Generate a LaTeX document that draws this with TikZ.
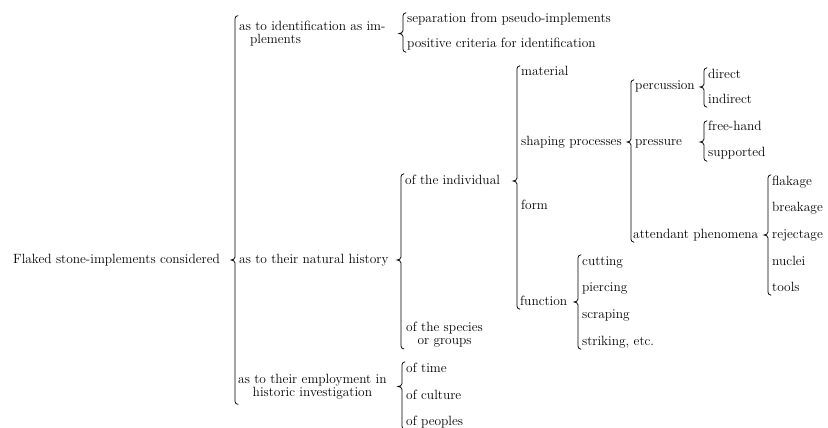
\documentclass[tikz,border=0pt]{standalone}
\usepackage{tikz}
\usetikzlibrary{calc}

%Klammer: Elternknoten, erstes Kind, letztes Kind
\newcommand{\gbrace}[4][1pt]{%
  \draw[brace] let \p1=(#3.north west), \p2=(#4.south west), \p3=(#2.east) in
    (\x1-1pt,\y1+#1) to[out=180,in=90] (\x1-4pt,\y1+#1-3pt)
    -- (\x1-4pt,\y3+3pt) to[out=-90,in=0] (\x1-8pt,\y3)
    to[out=0,in=90] (\x1-4pt,\y3-3pt)
    -- (\x1-4pt,\y2-#1+3pt) to[out=-90,in=180] (\x1-1pt,\y2-#1);}

\begin{document}
\begin{tikzpicture} [
    x=1pt, y=-1pt,
    every node/.style = { font=\fontsize{13.4}{13.3}\selectfont, inner sep=0pt, anchor=west},
    item/.style       = { text height=9pt, text depth=3pt},
    multi/.style      = { align=#1},
    brace/.style      = { draw=black, line width=0.75pt, line cap=round},
  ]
  \useasboundingbox (0,0) rectangle (828,428);

%Wurzel
  \node[item] (0a) at (13,260) {Flaked stone-implements considered};

%Ebene 1
  \node[multi=left]   (1a) at (239,33.5) {as to identification as im-\\\hspace*{11pt}plements};
  \node[item]         (1b) at (239,260)  {as to their natural history};
  \node[multi=center] (1c) at (238,386.5) {as to their employment in\\historic investigation};

%Ebene 2
  \node[item] (2a) at (407,20) {separation from pseudo-implements};
  \node[item] (2b) at (407,45) {positive criteria for identification};
  \node[item] (2c) at (405,181) {of the individual};
  \node[multi=center] (2d) at (406,335) {of the species\\or groups};
  \node[item] (2e) at (406,369) {of time};
  \node[item] (2f) at (406,396) {of culture};
  \node[item] (2g) at (406,422) {of peoples};

%Ebene 3
  \node[item] (3a) at (521,73)  {material};
  \node[item] (3b) at (521,142) {shaping processes};
  \node[item] (3c) at (521,206) {form};
  \node[item] (3d) at (520,302) {function};

%Ebene 4
  \node[item] (4a) at (635,87)  {percussion};
  \node[item] (4b) at (635,142) {pressure};
  \node[item] (4c) at (633,235) {attendant phenomena};
  \node[item] (4d) at (582,262) {cutting};
  \node[item] (4e) at (582,288) {piercing};
  \node[item] (4f) at (582,315) {scraping};
  \node[item] (4g) at (582,342) {striking, etc.};

%Ebene 5
  \node[item] (5a) at (708,75)  {direct};
  \node[item] (5b) at (708,100) {indirect};
  \node[item] (5c) at (708,128) {free-hand};
  \node[item] (5d) at (708,154) {supported};
  \node[item] (5e) at (772,182) {flakage};
  \node[item] (5f) at (772,208) {breakage};
  \node[item] (5g) at (772,235) {rejectage};
  \node[item] (5h) at (772,262) {nuclei};
  \node[item] (5i) at (772,288) {tools};

%Klammern
  \gbrace[5pt]{0a}{1a}{1c}
  \gbrace{1a}{2a}{2b}
  \gbrace{1b}{2c}{2d}
  \gbrace{1c}{2e}{2g}
  \gbrace{2c}{3a}{3d}
  \gbrace{3b}{4a}{4c}
  \gbrace{3d}{4d}{4g}
  \gbrace{4a}{5a}{5b}
  \gbrace{4b}{5c}{5d}
  \gbrace{4c}{5e}{5i}
\end{tikzpicture}
\end{document}
